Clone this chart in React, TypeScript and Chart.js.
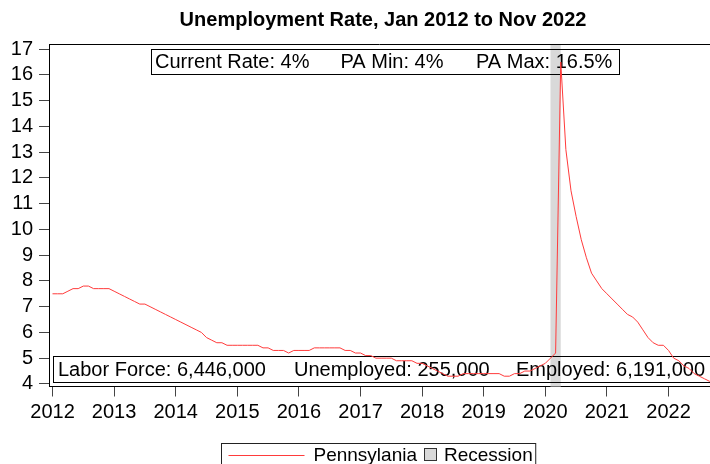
import { useEffect, useRef } from 'react';
import { Chart, registerables } from 'chart.js';

Chart.register(...registerables);

const FONT = "'Liberation Sans', Arial, Helvetica, sans-serif";
const TITLE = 'Unemployment Rate, Jan 2012 to Nov 2022';
const SERIES_LABEL = 'Pennsylania';
const RECESSION_LABEL = 'Recession';
const FIRST_YEAR = 2012;

// Monthly unemployment rate (%), Jan..Dec of each year (2022: Jan..Nov)
const RATE_2012 = [7.5, 7.5, 7.5, 7.6, 7.7, 7.7, 7.8, 7.8, 7.7, 7.7, 7.7, 7.7];
const RATE_2013 = [7.6, 7.5, 7.4, 7.3, 7.2, 7.1, 7.1, 7.0, 6.9, 6.8, 6.7, 6.6];
const RATE_2014 = [6.5, 6.4, 6.3, 6.2, 6.1, 6.0, 5.8, 5.7, 5.6, 5.6, 5.5, 5.5];
const RATE_2015 = [5.5, 5.5, 5.5, 5.5, 5.5, 5.4, 5.4, 5.3, 5.3, 5.3, 5.2, 5.3];
const RATE_2016 = [5.3, 5.3, 5.3, 5.4, 5.4, 5.4, 5.4, 5.4, 5.4, 5.3, 5.3, 5.2];
const RATE_2017 = [5.2, 5.1, 5.1, 5.0, 5.0, 5.0, 5.0, 4.9, 4.9, 4.9, 4.9, 4.8];
const RATE_2018 = [4.8, 4.7, 4.6, 4.5, 4.4, 4.3, 4.3, 4.3, 4.4, 4.4, 4.4, 4.4];
const RATE_2019 = [4.4, 4.4, 4.4, 4.4, 4.3, 4.3, 4.4, 4.4, 4.5, 4.5, 4.6, 4.7];
const RATE_2020 = [4.8, 5.0, 5.2, 16.5, 13.1, 11.5, 10.5, 9.6, 8.9, 8.3, 8.0, 7.7];
const RATE_2021 = [7.5, 7.3, 7.1, 6.9, 6.7, 6.6, 6.4, 6.1, 5.8, 5.6, 5.5, 5.5];
const RATE_2022 = [5.3, 5.0, 4.9, 4.7, 4.6, 4.4, 4.3, 4.2, 4.1, 4.0, 4.0];

// Recession period (decimal years): Feb 2020 .. Apr 2020
const RECESSION = [2020 + 1 / 12, 2020 + 3 / 12];

const YEAR_TICKS = [2012, 2013, 2014, 2015, 2016, 2017, 2018, 2019, 2020, 2021, 2022];
const RATE_TICKS = [4, 5, 6, 7, 8, 9, 10, 11, 12, 13, 14, 15, 16, 17];

const TOP_NOTES = ['Current Rate: 4%', 'PA Min: 4%', 'PA Max: 16.5%'];
const BOTTOM_NOTES = ['Labor Force: 6,446,000', 'Unemployed: 255,000', 'Employed: 6,191,000'];

const X_MIN = 2011.943;
const X_MAX = 2022.673;
const Y_MIN = 3.9;
const Y_MAX = 17.18;

const RED = '#ff3b3b';
const BAND = '#d9d9d9';

export default function App() {
  const ref = useRef<HTMLCanvasElement>(null);

  useEffect(() => {
    const canvas = ref.current;
    if (!canvas) return;
    const all = [
      ...RATE_2012, ...RATE_2013, ...RATE_2014, ...RATE_2015, ...RATE_2016, ...RATE_2017,
      ...RATE_2018, ...RATE_2019, ...RATE_2020, ...RATE_2021, ...RATE_2022,
    ];
    const points = all.map((v, i) => ({ x: FIRST_YEAR + i / 12, y: v }));

    const overlay = {
      id: 'overlay',
      beforeDatasetsDraw(chart: any) {
        const { ctx, chartArea, scales } = chart;
        ctx.save();
        // recession band
        const x0 = scales.x.getPixelForValue(RECESSION[0]);
        const x1 = scales.x.getPixelForValue(RECESSION[1]);
        ctx.fillStyle = BAND;
        ctx.fillRect(x0, chartArea.top, x1 - x0, chartArea.bottom - chartArea.top);

        // annotation boxes
        ctx.strokeStyle = '#000';
        ctx.lineWidth = 1;
        ctx.strokeRect(151.5, 49.5, 468, 25);
        ctx.strokeRect(53.5, 356.5, 700, 26);
        ctx.fillStyle = '#000';
        ctx.font = `20px ${FONT}`;
        ctx.textBaseline = 'middle';
        ctx.textAlign = 'left';
        const topX = [155, 340.5, 476];
        TOP_NOTES.forEach((t, i) => ctx.fillText(t, topX[i], 62.5));
        const botX = [58, 294, 516];
        BOTTOM_NOTES.forEach((t, i) => ctx.fillText(t, botX[i], 370));
        ctx.restore();
      },
      afterDraw(chart: any) {
        const { ctx, chartArea } = chart;
        ctx.save();
        // top frame line
        ctx.strokeStyle = '#000';
        ctx.lineWidth = 1;
        ctx.beginPath();
        ctx.moveTo(chartArea.left, chartArea.top);
        ctx.lineTo(chartArea.right, chartArea.top);
        ctx.stroke();

        // title
        ctx.fillStyle = '#000';
        ctx.font = `bold 20px ${FONT}`;
        ctx.textAlign = 'center';
        ctx.textBaseline = 'middle';
        ctx.fillText(TITLE, 383, 20);

        // legend
        ctx.font = `19px ${FONT}`;
        ctx.textAlign = 'left';
        const lx = 221.5;
        const ly = 455.5;
        const w1 = ctx.measureText(SERIES_LABEL).width;
        const w2 = ctx.measureText(RECESSION_LABEL).width;
        const lineStart = lx + 7;
        const lineEnd = lineStart + 76;
        const t1 = lineEnd + 9;
        const sq = t1 + w1 + 7;
        const t2 = sq + 12 + 8;
        const right = t2 + w2 + 3;
        ctx.strokeStyle = '#222';
        ctx.strokeRect(lx, 443.5, right - lx, 30);
        ctx.strokeStyle = RED;
        ctx.beginPath();
        ctx.moveTo(lineStart, ly);
        ctx.lineTo(lineEnd, ly);
        ctx.stroke();
        ctx.fillStyle = '#000';
        ctx.fillText(SERIES_LABEL, t1, ly);
        ctx.fillStyle = BAND;
        ctx.fillRect(Math.round(sq) + 0.5, 448.5, 12, 12);
        ctx.strokeStyle = '#333';
        ctx.strokeRect(Math.round(sq) + 0.5, 448.5, 12, 12);
        ctx.fillStyle = '#000';
        ctx.fillText(RECESSION_LABEL, t2, ly);
        ctx.restore();
      },
    };

    const chart = new Chart(canvas, {
      type: 'line',
      data: {
        datasets: [
          {
            label: SERIES_LABEL,
            data: points,
            borderColor: RED,
            borderWidth: 1,
            pointRadius: 0,
            tension: 0,
            fill: false,
          },
        ],
      },
      options: {
        animation: false,
        responsive: false,
        devicePixelRatio: 1,
        parsing: false,
        layout: { padding: { top: 44.5, left: 0, right: 0, bottom: 0 } },
        plugins: {
          legend: { display: false },
          title: { display: false },
          tooltip: { enabled: false },
        },
        scales: {
          x: {
            type: 'linear',
            min: X_MIN,
            max: X_MAX,
            afterBuildTicks: (s: any) => {
              s.ticks = YEAR_TICKS.map((v) => ({ value: v }));
            },
            afterFit: (s: any) => {
              s.height = 77.5;
            },
            grid: { drawOnChartArea: false, drawTicks: true, tickLength: 10, tickColor: '#444' },
            border: { display: true, color: '#000', width: 1 },
            ticks: {
              font: { family: FONT, size: 20 },
              color: '#000',
              padding: 4,
              maxRotation: 0,
              autoSkip: false,
              callback: (v: any) => String(v),
            },
          },
          y: {
            type: 'linear',
            min: Y_MIN,
            max: Y_MAX,
            afterBuildTicks: (s: any) => {
              s.ticks = RATE_TICKS.map((v) => ({ value: v }));
            },
            afterFit: (s: any) => {
              s.width = 49;
            },
            grid: { drawOnChartArea: false, drawTicks: true, tickLength: 10, tickColor: '#444' },
            border: { display: true, color: '#000', width: 1 },
            ticks: {
              font: { family: FONT, size: 20 },
              color: '#000',
              padding: 6,
              autoSkip: false,
              callback: (v: any) => String(v),
            },
          },
        },
      },
      plugins: [overlay],
    } as any);

    return () => chart.destroy();
  }, []);

  return (
    <div style={{ position: 'absolute', left: 0, top: 0, width: 710, height: 464 }}>
      <canvas ref={ref} width={710} height={464} style={{ display: 'block' }} />
    </div>
  );
}
